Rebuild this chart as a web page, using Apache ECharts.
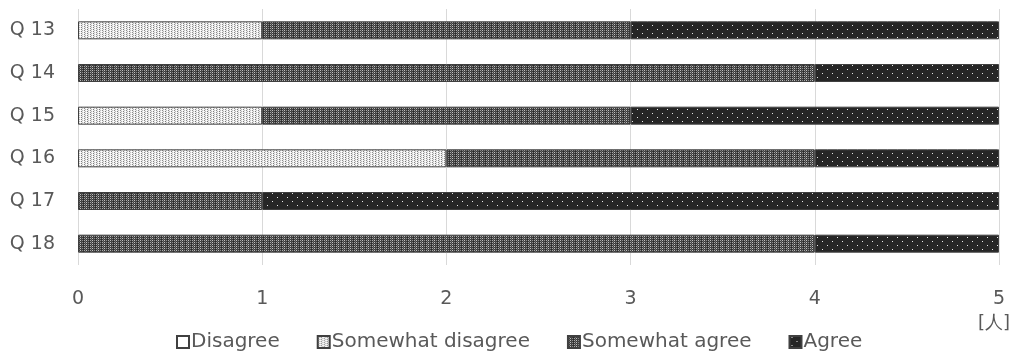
<!DOCTYPE html>
<html>
<head>
<meta charset="utf-8">
<script src="https://cdn.jsdelivr.net/npm/echarts@6/dist/echarts.min.js"></script>
<style>
  html, body { margin: 0; padding: 0; background: #ffffff; }
  #chart { width: 1013px; height: 352px; }
</style>
</head>
<body>
<div id="chart"></div>
<script>
// Survey questions (top to bottom) and number of respondents per answer
const categories = ['Q 13', 'Q 14', 'Q 15', 'Q 16', 'Q 17', 'Q 18'];
const disagree = [0, 0, 0, 0, 0, 0];
const somewhatDisagree = [1, 0, 1, 2, 0, 0];
const somewhatAgree = [2, 4, 2, 2, 1, 4];
const agree = [2, 1, 2, 1, 4, 1];
const seriesNames = ['Disagree', 'Somewhat disagree', 'Somewhat agree', 'Agree'];
const xTicks = [0, 1, 2, 3, 4, 5];
const unitLabel = '[人]';

// Small bitmap tiles used as repeating fill patterns
function tile(w, h, bg, dots) {
  const c = document.createElement('canvas');
  c.width = w; c.height = h;
  const ctx = c.getContext('2d');
  ctx.fillStyle = bg;
  ctx.fillRect(0, 0, w, h);
  dots.forEach(function (d) {
    ctx.fillStyle = d[2];
    ctx.fillRect(d[0], d[1], 1, 1);
  });
  return { image: c, repeat: 'repeat' };
}

const lightFill = tile(6, 4, '#eeeeee', [
  [0, 0, '#8a8a8a'], [0, 2, '#8a8a8a'],
  [1, 1, '#b8b8b8'], [1, 3, '#b8b8b8'],
  [2, 0, '#ffffff'], [2, 2, '#ffffff'],
  [3, 1, '#7c7c7c'], [3, 3, '#7c7c7c'],
  [4, 0, '#c4c4c4'], [4, 2, '#c4c4c4'],
  [5, 1, '#ffffff'], [5, 3, '#ffffff']
]);

const darkFill = tile(6, 4, '#3c3c3c', [
  [0, 0, '#a8a8a8'], [0, 2, '#a8a8a8'],
  [1, 1, '#6a6a6a'], [1, 3, '#6a6a6a'],
  [2, 0, '#c0c0c0'], [2, 2, '#c0c0c0'],
  [3, 1, '#4a4a4a'], [3, 3, '#4a4a4a'],
  [4, 0, '#8a8a8a'], [4, 2, '#8a8a8a'],
  [5, 1, '#2a2a2a'], [5, 3, '#2a2a2a']
]);

const dotFill = tile(10, 8, '#262626', [
  [2, 1, '#e8e8e8'], [7, 5, '#e8e8e8']
]);

const fills = ['#ffffff', lightFill, darkFill, dotFill];
const values = [disagree, somewhatDisagree, somewhatAgree, agree];

const textColor = '#595959';
const fontFamily = '"DejaVu Sans", Verdana, sans-serif';

const chart = echarts.init(document.getElementById('chart'), null, { renderer: 'canvas' });

chart.setOption({
  animation: false,
  textStyle: { fontFamily: fontFamily, color: textColor },
  grid: { left: 78, right: 13, top: 9, bottom: 87, containLabel: false },
  legend: {
    left: 171,
    top: 327,
    itemWidth: 12,
    itemHeight: 12,
    itemGap: 37,
    icon: 'rect',
    textStyle: { fontSize: 20, color: textColor, fontFamily: fontFamily, padding: [0, 0, 0, -3] },
    data: seriesNames
  },
  xAxis: {
    type: 'value',
    min: 0,
    max: 5,
    interval: 1,
    axisLine: { show: false },
    axisTick: { show: false },
    splitLine: { show: true, lineStyle: { color: '#d9d9d9', width: 1 } },
    axisLabel: {
      margin: 25,
      fontSize: 19,
      color: textColor,
      formatter: function (v) { return xTicks.indexOf(v) >= 0 ? String(v) : ''; }
    },
    name: unitLabel,
    nameLocation: 'end',
    nameGap: 11,
    nameTextStyle: {
      fontSize: 18,
      color: textColor,
      align: 'right',
      verticalAlign: 'top',
      padding: [49, 0, 0, 0]
    }
  },
  yAxis: {
    type: 'category',
    inverse: true,
    data: categories,
    axisLine: { show: false },
    axisTick: { show: false },
    splitLine: { show: false },
    axisLabel: { margin: 23, fontSize: 19, color: textColor }
  },
  series: seriesNames.map(function (name, i) {
    return {
      name: name,
      type: 'bar',
      stack: 'total',
      barWidth: 18,
      // empty segments are left out so no zero-width outline is drawn
      data: values[i].map(function (v) { return v === 0 ? '-' : v; }),
      itemStyle: {
        color: fills[i],
        borderColor: '#404040',
        borderWidth: 1
      },
      emphasis: { disabled: true }
    };
  })
});
</script>
</body>
</html>
